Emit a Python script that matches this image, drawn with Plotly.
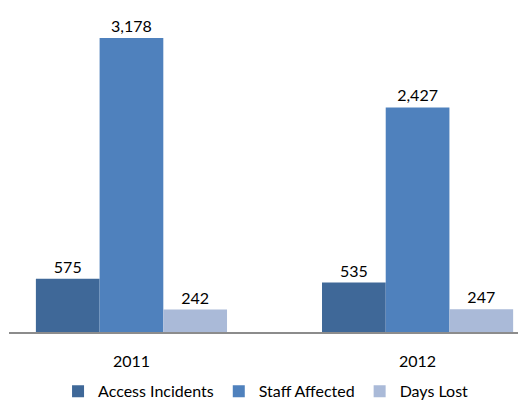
import plotly.graph_objects as go

years = ["2011", "2012"]
access_incidents = [575, 535]
staff_affected = [3178, 2427]
days_lost = [242, 247]

series = [
    ("Access Incidents", access_incidents, "#3F6898"),
    ("Staff Affected", staff_affected, "#4F81BD"),
    ("Days Lost", days_lost, "#AABAD8"),
]

fig = go.Figure()
for name, vals, color in series:
    fig.add_trace(go.Bar(
        x=years, y=vals, name=name,
        marker=dict(color=color, line=dict(width=0)),
        text=[f"{v:,}" for v in vals],
        textposition="outside",
        textfont=dict(size=16, color="#000000"),
        cliponaxis=False,
    ))

fig.update_layout(
    width=518, height=403,
    margin=dict(l=9, r=0, t=10, b=71, autoexpand=False),
    barmode="group",
    bargap=0.332,
    bargroupgap=0,
    plot_bgcolor="white",
    paper_bgcolor="white",
    font=dict(family="Lato, sans-serif", size=16, color="#000000"),
    showlegend=True,
    legend=dict(orientation="h", x=0.505, xanchor="center", y=-0.237, yanchor="bottom",
                font=dict(size=16), itemwidth=30, traceorder="normal",
                bgcolor="rgba(0,0,0,0)"),
    xaxis=dict(range=[-0.428, 1.351], showline=True, linecolor="#8C8C8C", linewidth=2,
               ticks="", showgrid=False, tickfont=dict(size=16), zeroline=False,
               ticklabelstandoff=14, automargin=False),
    yaxis=dict(range=[0, 3480], visible=False, showgrid=False, zeroline=False),
)

fig.write_html("out.html")
